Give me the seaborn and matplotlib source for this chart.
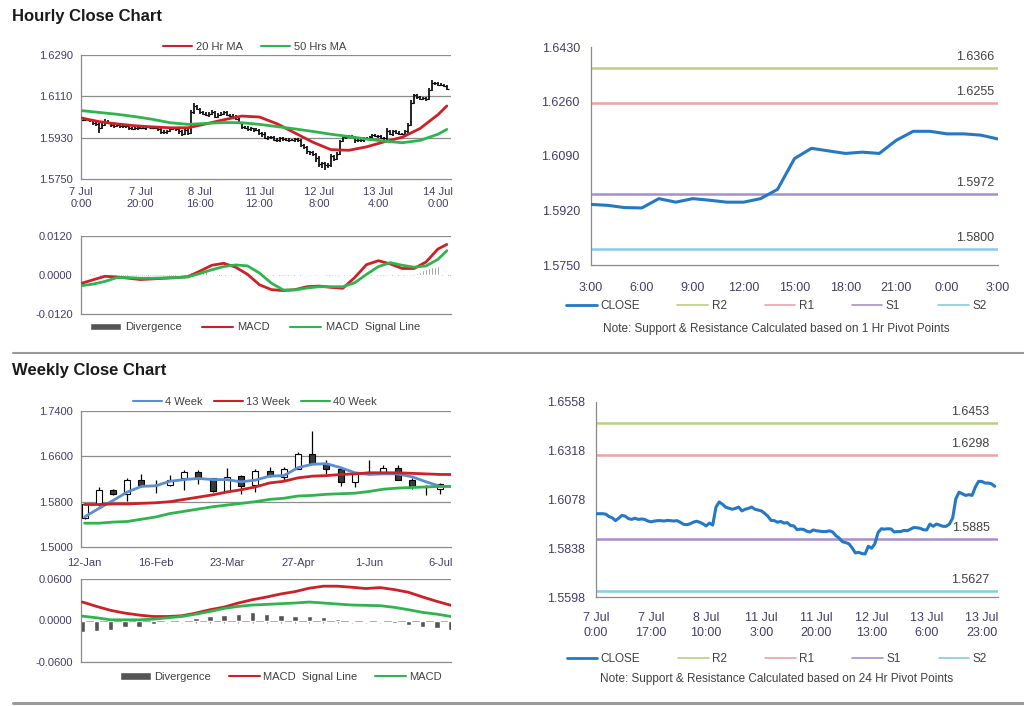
import matplotlib.pyplot as plt
import numpy as np
import pandas as pd
import seaborn as sns
from matplotlib.lines import Line2D
from matplotlib.patches import Patch

# ---------------- hourly data: 7 Jul 0:00 -> 14 Jul 3:00 (124 bars) ----------------
hourly_close = [
    1.6008, 1.6008, 1.6008, 1.6006, 1.5994, 1.5988, 1.5974, 1.5986, 1.6000, 1.5996,
    1.5984, 1.5980, 1.5986, 1.5980, 1.5982, 1.5980, 1.5972, 1.5968, 1.5972, 1.5974,
    1.5974, 1.5972, 1.5975, 1.5974, 1.5972, 1.5974, 1.5966, 1.5956, 1.5954, 1.5958,
    1.5966, 1.5971, 1.5966, 1.5958, 1.5948, 1.5962, 1.5952,
    1.6040, 1.6066, 1.6055, 1.6040, 1.6035, 1.6030, 1.6034, 1.6041, 1.6022, 1.6030,
    1.6034, 1.6041, 1.6030, 1.6026, 1.6022, 1.6010, 1.5996, 1.5975, 1.5974, 1.5966,
    1.5970, 1.5962, 1.5964, 1.5950, 1.5948, 1.5930, 1.5932, 1.5931, 1.5922, 1.5918,
    1.5928, 1.5924, 1.5922, 1.5920, 1.5920, 1.5924, 1.5918, 1.5900, 1.5888, 1.5870,
    1.5866, 1.5860, 1.5840, 1.5815, 1.5818, 1.5812, 1.5810, 1.5848, 1.5838, 1.5860,
    1.5915, 1.5934, 1.5932, 1.5934, 1.5933, 1.5918, 1.5920, 1.5920, 1.5926, 1.5924,
    1.5932, 1.5940,
    1.5939, 1.5936, 1.5929, 1.5928, 1.5957, 1.5946, 1.5957, 1.5952, 1.5946, 1.5946,
    1.5957, 1.5986, 1.6082, 1.6114, 1.6106, 1.6098, 1.6102, 1.6098, 1.6139, 1.6167,
    1.6167, 1.6159, 1.6159, 1.6155, 1.6143,
]
# wick sizes above / below each bar body, in pips
hourly_up_pips = [
    5, 4, 6, 3, 4, 6, 5, 8, 12, 6, 4, 5, 7, 4, 6, 5, 4, 6, 5, 4,
    4, 5, 3, 6, 4, 5, 3, 4, 6, 5, 4, 6, 5, 3, 4, 6, 5,
    10, 14, 8, 6, 7, 5, 6, 8, 5, 6, 7, 5, 6, 4, 5, 6, 5, 4, 5, 6,
    5, 4, 6, 5, 4, 6, 5, 4, 6, 5, 4, 6, 5, 7, 4, 5, 6, 5, 4, 5,
    4, 6, 5, 8, 6, 5, 7, 12, 6, 8, 6, 9, 5, 6, 7, 5, 6, 8, 5, 6,
    5, 6, 8, 4, 6, 5, 14, 6, 7, 5, 6, 5, 8, 6, 10, 8, 6, 5, 7, 6,
    8, 12, 6, 5, 7, 6, 5,
]
hourly_dn_pips = [
    4, 5, 3, 6, 8, 6, 25, 5, 6, 7, 8, 6, 5, 9, 6, 7, 8, 5, 6, 7,
    6, 5, 7, 4, 6, 5, 8, 10, 7, 6, 5, 4, 8, 10, 12, 6, 9,
    6, 8, 6, 7, 5, 6, 8, 5, 7, 6, 5, 6, 4, 8, 6, 5, 6, 7, 5, 6,
    6, 8, 5, 7, 15, 6, 8, 7, 6, 9, 5, 7, 6, 8, 5, 7, 6, 10, 8, 12,
    10, 12, 15, 14, 18, 22, 12, 8, 10, 6, 5, 6, 8, 5, 6, 12, 6, 8, 7, 6,
    6, 5, 7, 6, 5, 8, 6, 5, 7, 6, 5, 6, 8, 12, 6, 5, 8, 6, 5, 7,
    6, 5, 8, 6, 5, 6, 7,
]
hourly_ticks = [0, 20, 40, 60, 80, 100, 120]
hourly_tick_labels = ["7 Jul\n0:00", "7 Jul\n20:00", "8 Jul\n16:00", "11 Jul\n12:00",
                      "12 Jul\n8:00", "13 Jul\n4:00", "14 Jul\n0:00"]

ma_bars = [0, 6, 12, 18, 24, 30, 36, 42, 48, 54, 60, 66, 72, 78, 84, 90, 96, 102, 108, 114, 120, 123]
ma20 = [1.6016, 1.6000, 1.5990, 1.5982, 1.5977, 1.5973, 1.5973, 1.5990, 1.6008, 1.6024, 1.6020,
        1.5990, 1.5950, 1.5910, 1.5878, 1.5875, 1.5890, 1.5912, 1.5932, 1.5970, 1.6030, 1.6068]
ma50 = [1.6048, 1.6040, 1.6032, 1.6022, 1.6010, 1.5995, 1.5988, 1.5992, 1.5996, 1.5995, 1.5988,
        1.5978, 1.5968, 1.5957, 1.5945, 1.5935, 1.5924, 1.5915, 1.5908, 1.5918, 1.5945, 1.5966]

macd_bars = [0, 4, 8, 12, 16, 20, 24, 28, 32, 36, 40, 44, 48, 52, 56, 60,
             64, 68, 72, 76, 80, 84, 88, 92, 96, 100, 104, 108, 112, 116, 120, 123]
hourly_macd = [-0.0026, -0.0015, -0.0004, -0.0006, -0.0010, -0.0014, -0.0012, -0.0010,
               -0.0008, -0.0005, 0.0012, 0.0030, 0.0036, 0.0024, 0.0002, -0.0030,
               -0.0045, -0.0048, -0.0045, -0.0036, -0.0034, -0.0038, -0.0041, -0.0008,
               0.0032, 0.0044, 0.0034, 0.0020, 0.0020, 0.0040, 0.0080, 0.0094]
hourly_signal = [-0.0033, -0.0028, -0.0020, -0.0008, -0.0008, -0.0010, -0.0010, -0.0009,
                 -0.0008, -0.0006, 0.0005, 0.0016, 0.0026, 0.0031, 0.0028, 0.0006,
                 -0.0025, -0.0046, -0.0046, -0.0040, -0.0036, -0.0036, -0.0036, -0.0024,
                 0.0002, 0.0026, 0.0038, 0.0030, 0.0024, 0.0028, 0.0048, 0.0075]
hourly_div_pips = [
    3, 4, 4, 5, 6, 7, 7, 6, 5, 4, 3, 2, 1, 1, 0, -1, -1, -1, -1, -1,
    -1, -1, 0, 0, 0, 0, -1, -1, -1, 0, 0, 1, 1, 2, 3, 5, 7, 9, 11, 12,
    13, 14, 15, 14, 12, 9, 5, 1, -3, -7, -10, -13, -16, -19, -21, -23, -25, -26, -26, -25,
    -23, -20, -17, -13, -9, -6, -3, -1, 1, 2, 3, 4, 5, 5, 4, 3, 2, 1, 0, -1,
    -1, -2, -2, -1, 0, 2, 4, 7, 10, 13, 16, 19, 22, 24, 26, 25, 23, 19, 14, 9,
    4, 0, -3, -5, -7, -8, -9, -10, -9, -7, -5, -2, 2, 6, 10, 14, 18, 22, 25, 26,
    27, 28, 27, 26,
]

# 1 hr pivot panel (last 25 hourly closes: 13 Jul 3:00 -> 14 Jul 3:00)
pivot_names = ["R2", "R1", "S1", "S2"]
pivot_colors = ["#B9CF82", "#EBA3A3", "#A88FCB", "#86CDE3"]
pivot_1hr = [1.6366, 1.6255, 1.5972, 1.5800]
hour_ticks = [0, 3, 6, 9, 12, 15, 18, 21, 24]
hour_tick_labels = ["3:00", "6:00", "9:00", "12:00", "15:00", "18:00", "21:00", "0:00", "3:00"]

# 24 hr pivot panel
pivot_24hr = [1.6453, 1.6298, 1.5885, 1.5627]
day_ticks = [0, 17, 34, 51, 68, 85, 102, 119]
day_tick_labels = ["7 Jul\n0:00", "7 Jul\n17:00", "8 Jul\n10:00", "11 Jul\n3:00",
                   "11 Jul\n20:00", "12 Jul\n13:00", "13 Jul\n6:00", "13 Jul\n23:00"]

# ---------------- weekly data: 12 Jan -> 13 Jul ----------------
weekly_open = [1.552, 1.575, 1.600, 1.594, 1.619, 1.609, 1.609, 1.622, 1.632, 1.621,
               1.598, 1.625, 1.609, 1.634, 1.624, 1.638, 1.664, 1.647, 1.637, 1.615,
               1.630, 1.631, 1.640, 1.619, 1.606, 1.603, 1.606]
weekly_close = [1.575, 1.600, 1.594, 1.619, 1.609, 1.610, 1.618, 1.632, 1.622, 1.598,
                1.624, 1.607, 1.634, 1.625, 1.638, 1.664, 1.648, 1.637, 1.615, 1.630,
                1.631, 1.640, 1.619, 1.605, 1.607, 1.612, 1.619]
weekly_high = [1.578, 1.606, 1.603, 1.622, 1.628, 1.619, 1.627, 1.635, 1.635, 1.622,
               1.640, 1.627, 1.637, 1.641, 1.641, 1.668, 1.705, 1.653, 1.638, 1.633,
               1.653, 1.644, 1.644, 1.622, 1.609, 1.613, 1.620]
weekly_low = [1.549, 1.573, 1.591, 1.582, 1.606, 1.595, 1.607, 1.601, 1.612, 1.597,
              1.597, 1.594, 1.597, 1.624, 1.619, 1.637, 1.647, 1.628, 1.607, 1.605,
              1.627, 1.629, 1.618, 1.603, 1.591, 1.594, 1.605]
week_ticks = [0, 5, 10, 15, 20, 25]
week_tick_labels = ["12-Jan", "16-Feb", "23-Mar", "27-Apr", "1-Jun", "6-Jul"]

ma4 = [1.553, 1.568, 1.582, 1.597, 1.607, 1.608, 1.616, 1.619, 1.621, 1.619, 1.619, 1.615, 1.618,
       1.625, 1.626, 1.640, 1.646, 1.647, 1.640, 1.631, 1.628, 1.629, 1.629, 1.624, 1.615, 1.607, 1.607]
ma13 = [1.575, 1.575, 1.576, 1.576, 1.577, 1.578, 1.580, 1.584, 1.588, 1.592, 1.597, 1.601, 1.606,
        1.613, 1.616, 1.622, 1.625, 1.626, 1.628, 1.629, 1.631, 1.631, 1.631, 1.630, 1.629, 1.628, 1.628]
ma40 = [1.542, 1.542, 1.544, 1.545, 1.549, 1.553, 1.559, 1.563, 1.567, 1.571, 1.574, 1.577, 1.580,
        1.584, 1.586, 1.590, 1.591, 1.593, 1.594, 1.595, 1.598, 1.602, 1.604, 1.605, 1.606, 1.607, 1.607]

weekly_signal = [0.0267, 0.0204, 0.0146, 0.0107, 0.0078, 0.0058, 0.0058, 0.0068, 0.0107, 0.0156,
                 0.0194, 0.0253, 0.0301, 0.0340, 0.0384, 0.0418, 0.0467, 0.0496, 0.0496, 0.0481,
                 0.0462, 0.0476, 0.0447, 0.0408, 0.0340, 0.0277, 0.0219]
weekly_macd = [0.0063, 0.0039, 0.0010, 0.0010, 0.0010, 0.0019, 0.0039, 0.0058, 0.0092, 0.0131,
               0.0175, 0.0204, 0.0224, 0.0233, 0.0243, 0.0253, 0.0267, 0.0253, 0.0238, 0.0224,
               0.0219, 0.0214, 0.0190, 0.0156, 0.0117, 0.0092, 0.0058]
weekly_div = [-0.0160, -0.0146, -0.0136, -0.0097, -0.0087, -0.0049, -0.0015, -0.0015, 0.0034, 0.0058,
              0.0083, 0.0097, 0.0117, 0.0097, 0.0083, 0.0068, 0.0068, 0.0049, 0.0019, -0.0015,
              -0.0015, -0.0015, -0.0030, -0.0063, -0.0097, -0.0110, -0.0136]

PIP = 0.0001
RED = "#CE2027"
GREEN = "#2FB44F"
BLUE_MA = "#5B8ED0"
CLOSE_BLUE = "#2478C4"
DIV_GRAY = "#555555"
TICK_TXT = "#463C66"
AXIS_GRAY = "#8A8A8A"
W, H = 1024, 706

sns.set_theme(style="white")
plt.rcParams["font.family"] = ["Liberation Sans", "DejaVu Sans"]


def rect(x0, y0, x1, y1):
    return [x0 / W, 1 - y1 / H, (x1 - x0) / W, (y1 - y0) / H]


def style_axes(ax, fontsize=8, grid_vals=None):
    for s in ["top", "right"]:
        ax.spines[s].set_visible(False)
    for s in ["left", "bottom"]:
        ax.spines[s].set_color(AXIS_GRAY)
        ax.spines[s].set_linewidth(0.9)
    ax.tick_params(axis="both", colors=AXIS_GRAY, labelcolor=TICK_TXT, length=3, width=0.8,
                   direction="out", labelsize=fontsize, pad=3)
    if grid_vals is not None:
        for v in grid_vals:
            ax.axhline(v, color="#8C8C8C", lw=0.9, zorder=0)
    ax.set_xlabel("")
    ax.set_ylabel("")


def fmt_yticks(ax, ticks):
    ax.set_yticks(ticks)
    ax.set_yticklabels([f"{t:.4f}" for t in ticks])


def line_handle(color, lw=1.5):
    return Line2D([0], [0], color=color, lw=lw)


fig = plt.figure(figsize=(10.24, 7.06), dpi=100)

# titles and separators
fig.text(12 / W, 1 - 16 / H, "Hourly Close Chart", fontsize=12, fontweight="bold", va="center", color="#1a1a1a")
fig.text(12 / W, 1 - 370 / H, "Weekly Close Chart", fontsize=12, fontweight="bold", va="center", color="#1a1a1a")
fig.add_artist(Line2D([13 / W, 1.0], [1 - 353 / H] * 2, color="#9A9A9A", lw=1.5))
fig.add_artist(Line2D([13 / W, 1.0], [1 - 703 / H] * 2, color="#9A9A9A", lw=2.2))

# ---------------- hourly price panel ----------------
ax1 = fig.add_axes(rect(81, 55, 451, 179))
x_h = np.arange(len(hourly_close))
close_arr = np.array(hourly_close)
open_arr = np.concatenate([[close_arr[0]], close_arr[:-1]])
hi = np.maximum(open_arr, close_arr) + np.array(hourly_up_pips) * PIP
lo = np.minimum(open_arr, close_arr) - np.array(hourly_dn_pips) * PIP
ax1.vlines(x_h, lo, hi, color="black", lw=1.2, zorder=2)
ax1.hlines(close_arr, x_h, x_h + 0.7, color="black", lw=0.9, zorder=2)
sns.lineplot(x=ma_bars, y=ma20, ax=ax1, color=RED, lw=2.0, zorder=3)
sns.lineplot(x=ma_bars, y=ma50, ax=ax1, color=GREEN, lw=2.0, zorder=3)
ax1.set_xlim(0, 124.4)
ax1.set_ylim(1.5750, 1.6290)
style_axes(ax1, grid_vals=[1.6290, 1.6110, 1.5930])
fmt_yticks(ax1, [1.5750, 1.5930, 1.6110, 1.6290])
ax1.set_xticks(hourly_ticks)
ax1.set_xticklabels(hourly_tick_labels, linespacing=1.25)
ax1.legend([line_handle(RED), line_handle(GREEN)], ["20 Hr MA", "50 Hrs MA"],
           loc="lower center", bbox_to_anchor=(0.47, 0.98), ncol=2, frameon=False,
           fontsize=8, handlelength=2.6, columnspacing=1.6, labelcolor="#404040",
           borderaxespad=0.1, handletextpad=0.4)

# ---------------- hourly MACD panel ----------------
ax2 = fig.add_axes(rect(81, 236, 451, 314))
ax2.axhline(0, color="#9A9A9A", lw=0.6, ls=(0, (1, 1.5)), zorder=1)
ax2.bar(x_h, np.array(hourly_div_pips) * PIP, width=0.4, color="#6E6E6E", zorder=2)
sns.lineplot(x=macd_bars, y=hourly_macd, ax=ax2, color=RED, lw=2.0, zorder=3)
sns.lineplot(x=macd_bars, y=hourly_signal, ax=ax2, color=GREEN, lw=2.0, zorder=4)
ax2.set_xlim(0, 124.4)
ax2.set_ylim(-0.012, 0.012)
style_axes(ax2, grid_vals=[0.012])
fmt_yticks(ax2, [-0.012, 0.0, 0.012])
ax2.set_xticks([])
ax2.legend([Patch(facecolor=DIV_GRAY), line_handle(RED), line_handle(GREEN)],
           ["Divergence", "MACD", "MACD  Signal Line"], loc="center",
           bbox_to_anchor=(0.47, -0.17), ncol=3, frameon=False, fontsize=8,
           handlelength=2.8, handleheight=0.6, columnspacing=1.8, labelcolor="#404040",
           handletextpad=0.4)

# ---------------- 1 hr pivot panel ----------------
ax3 = fig.add_axes(rect(591, 47, 998, 265))
last_day = hourly_close[-25:]
for name, col, val in zip(pivot_names, pivot_colors, pivot_1hr):
    ax3.axhline(val, color=col, lw=1.8, zorder=1)
    ax3.annotate(f"{val:.4f}", xy=(1.0, val), xycoords=("axes fraction", "data"),
                 xytext=(-3, 3.5), textcoords="offset points", ha="right", va="bottom",
                 fontsize=9, color="#404040")
sns.lineplot(x=np.arange(len(last_day)), y=last_day, ax=ax3, color=CLOSE_BLUE, lw=2.2, zorder=3)
ax3.set_xlim(0, 24)
ax3.set_ylim(1.5750, 1.6430)
style_axes(ax3, fontsize=9)
fmt_yticks(ax3, [1.5750, 1.5920, 1.6090, 1.6260, 1.6430])
ax3.set_xticks(hour_ticks)
ax3.set_xticklabels(hour_tick_labels)
ax3.tick_params(axis="x", length=4, pad=8)
ax3.tick_params(axis="y", length=4, pad=4)
ax3.legend([line_handle(CLOSE_BLUE, 2)] + [line_handle(c, 1.2) for c in pivot_colors],
           ["CLOSE"] + pivot_names, loc="center", bbox_to_anchor=(0.455, -0.19), ncol=5,
           frameon=False, fontsize=8.5, handlelength=2.6, columnspacing=3.2,
           labelcolor="#404040", handletextpad=0.3)
fig.text(776 / W, 1 - 329 / H, "Note: Support & Resistance Calculated based on 1 Hr Pivot Points",
         ha="center", va="center", fontsize=8.5, color="#404040")

# ---------------- weekly candle panel ----------------
ax4 = fig.add_axes(rect(81, 411, 451, 547))
x_w = np.arange(len(weekly_close))
w_open = np.array(weekly_open)
w_close = np.array(weekly_close)
body_h = np.where(np.abs(w_close - w_open) < 0.0015, 0.0012, w_close - w_open)
body_col = np.where(w_close >= w_open, "white", "#3A3A3A")
ax4.vlines(x_w, weekly_low, weekly_high, color="black", lw=0.9, zorder=2)
ax4.bar(x_w, body_h, bottom=w_open, width=0.42, color=body_col, edgecolor="black", lw=0.8, zorder=3)
sns.lineplot(x=x_w, y=ma4, ax=ax4, color=BLUE_MA, lw=2.0, zorder=4)
sns.lineplot(x=x_w, y=ma13, ax=ax4, color=RED, lw=2.0, zorder=4)
sns.lineplot(x=x_w, y=ma40, ax=ax4, color=GREEN, lw=2.0, zorder=4)
ax4.set_xlim(-0.25, 25.75)
ax4.set_ylim(1.50, 1.74)
style_axes(ax4, grid_vals=[1.58, 1.66, 1.74])
fmt_yticks(ax4, [1.50, 1.58, 1.66, 1.74])
ax4.set_xticks(week_ticks)
ax4.set_xticklabels(week_tick_labels)
ax4.tick_params(axis="x", pad=5)
ax4.legend([line_handle(BLUE_MA), line_handle(RED), line_handle(GREEN)],
           ["4 Week", "13 Week", "40 Week"], loc="lower center", bbox_to_anchor=(0.47, 0.99),
           ncol=3, frameon=False, fontsize=8, handlelength=2.6, columnspacing=1.0,
           labelcolor="#404040", borderaxespad=0.1, handletextpad=0.3)

# ---------------- weekly MACD panel ----------------
ax5 = fig.add_axes(rect(81, 579, 451, 662))
ax5.axhline(0, color="#A0A0A0", lw=0.6, zorder=1)
ax5.vlines(x_w, -0.004, 0, color="#8A8A8A", lw=0.8, zorder=1)
ax5.bar(x_w, weekly_div, width=0.38, color=DIV_GRAY, zorder=2)
sns.lineplot(x=x_w, y=weekly_signal, ax=ax5, color=RED, lw=2.0, zorder=3)
sns.lineplot(x=x_w, y=weekly_macd, ax=ax5, color=GREEN, lw=2.0, zorder=3)
ax5.set_xlim(-0.1, 26.0)
ax5.set_ylim(-0.06, 0.06)
style_axes(ax5, grid_vals=[0.06])
fmt_yticks(ax5, [-0.06, 0.0, 0.06])
ax5.set_xticks([])
ax5.legend([Patch(facecolor=DIV_GRAY), line_handle(RED), line_handle(GREEN)],
           ["Divergence", "MACD  Signal Line", "MACD"], loc="center",
           bbox_to_anchor=(0.54, -0.18), ncol=3, frameon=False, fontsize=8,
           handlelength=2.8, handleheight=0.6, columnspacing=1.6, labelcolor="#404040",
           handletextpad=0.3)

# ---------------- 24 hr pivot panel ----------------
ax6 = fig.add_axes(rect(596, 402, 998, 597))
for name, col, val in zip(pivot_names, pivot_colors, pivot_24hr):
    ax6.axhline(val, color=col, lw=1.8, zorder=1)
    ax6.annotate(f"{val:.4f}", xy=(1.0, val), xycoords=("axes fraction", "data"),
                 xytext=(-6, 3.5), textcoords="offset points", ha="right", va="bottom",
                 fontsize=9, color="#404040", zorder=5)
sns.lineplot(x=x_h, y=hourly_close, ax=ax6, color=CLOSE_BLUE, lw=2.2, zorder=3)
ax6.set_xlim(0, 124)
ax6.set_ylim(1.5598, 1.6558)
style_axes(ax6, fontsize=9)
fmt_yticks(ax6, [1.5598, 1.5838, 1.6078, 1.6318, 1.6558])
ax6.set_xticks(day_ticks)
ax6.set_xticklabels(day_tick_labels, linespacing=1.3)
ax6.tick_params(axis="x", length=4, pad=7)
ax6.tick_params(axis="y", length=4, pad=4)
ax6.legend([line_handle(CLOSE_BLUE, 2)] + [line_handle(c, 1.2) for c in pivot_colors],
           ["CLOSE"] + pivot_names, loc="center", bbox_to_anchor=(0.45, -0.32), ncol=5,
           frameon=False, fontsize=8.5, handlelength=2.6, columnspacing=3.2,
           labelcolor="#404040", handletextpad=0.3)
fig.text(777 / W, 1 - 679 / H, "Note: Support & Resistance Calculated based on 24 Hr Pivot Points",
         ha="center", va="center", fontsize=8.5, color="#404040")

fig.savefig("out.png", dpi=100)
plt.close(fig)
